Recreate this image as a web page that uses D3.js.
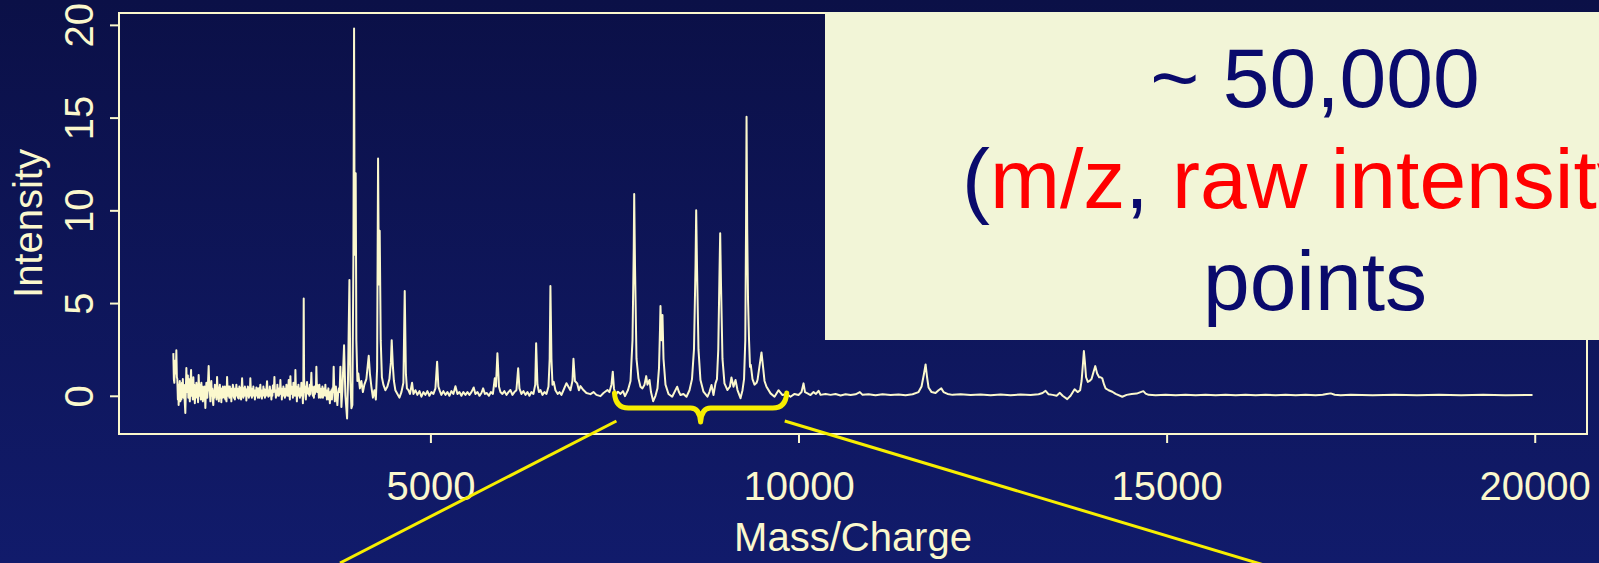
<!DOCTYPE html>
<html>
<head>
<meta charset="utf-8">
<script src="https://cdn.jsdelivr.net/npm/d3@7"></script>
<style>
  html, body { margin: 0; padding: 0; background: #0e1558; overflow: hidden; }
  svg { display: block; }
</style>
</head>
<body>
<div id="chart"></div>
<script>
// spectrum: [m/z, intensity]
const spectrum = [
  // noisy low-mass end
  [1508,2.3],[1515,0.9],[1522,0.7],[1528,1.6],[1535,1.9],[1542,1.2],[1549,2.46],[1556,1.0],
  [1562,0.9],[1570,-0.2],[1576,0.6],[1580,-0.5],[1588,0.4],[1596,0.8],[1603,-0.3],[1610,0.5],
  [1617,-0.2],[1625,0.7],[1631,0.1],[1637,0.9],[1645,-0.1],[1652,0.6],[1658,0.1],[1664,-0.4],
  [1671,-0.93],[1678,0.3],[1685,1.5],[1691,0.4],[1698,0.2],[1705,1.1],[1712,-0.1],[1719,0.9],
  [1725,0.2],[1732,-0.3],[1740,0.6],[1749,1.39],[1757,0.0],[1766,0.3],[1773,-0.2],[1780,1.0],
  [1787,0.1],[1793,0.6],[1800,-0.4],[1808,0.3],[1814,-0.1],[1821,0.7],[1828,0.0],[1836,0.5],
  [1844,-0.35],[1852,1.12],[1860,0.3],[1868,0.0],[1875,0.6],[1882,-0.2],[1889,0.7],[1896,0.1],
  [1903,0.5],[1909,-0.3],[1916,0.4],[1923,-0.2],[1930,0.5],[1937,0.0],[1943,-0.66],[1950,0.2],
  [1957,0.7],[1963,0.4],[1970,-0.1],[1978,0.6],[1988,1.6],[1996,0.5],[2004,0.2],[2011,-0.3],
  [2017,0.5],[2024,0.8],[2031,0.0],[2038,0.4],[2044,-0.3],[2051,-0.5],[2058,0.3],[2065,-0.1],
  [2072,0.6],[2080,0.1],[2088,0.5],[2095,-0.2],[2102,1.02],[2110,0.2],[2119,0.1],[2126,-0.3],
  [2133,0.4],[2140,0.6],[2147,-0.1],[2154,0.3],[2160,-0.35],[2167,0.4],[2174,-0.1],[2181,0.5],
  [2188,0.0],[2195,0.4],[2201,-0.1],[2208,0.5],[2215,-0.2],[2222,0.3],[2230,-0.3],[2238,1.02],
  [2246,0.2],[2255,0.0],[2262,0.5],[2269,-0.1],[2276,0.5],[2283,0.0],[2290,0.3],[2296,-0.3],
  [2303,0.4],[2310,0.0],[2316,0.6],[2323,0.45],[2330,-0.1],[2337,0.3],[2344,-0.2],[2351,0.4],
  [2357,0.0],[2364,0.6],[2371,0.1],[2378,0.4],[2384,-0.1],[2391,0.3],[2398,-0.15],[2405,0.5],
  [2413,0.0],[2421,0.4],[2428,-0.2],[2435,0.3],[2442,0.94],[2450,0.2],[2459,-0.1],[2466,0.4],
  [2473,0.0],[2480,0.5],[2487,0.1],[2494,0.35],[2500,-0.25],[2507,0.3],[2514,0.0],[2520,0.5],
  [2527,0.4],[2534,-0.1],[2541,0.3],[2547,0.0],[2554,0.94],[2562,0.2],[2568,0.4],[2575,-0.1],
  [2582,0.3],[2588,0.0],[2595,0.5],[2602,0.1],[2609,0.3],[2616,-0.2],[2623,0.3],[2629,0.0],
  [2636,0.45],[2643,0.1],[2650,0.4],[2656,-0.1],[2663,0.0],[2670,0.4],[2677,-0.1],[2683,0.3],
  [2690,0.6],[2697,0.0],[2704,0.3],[2711,-0.15],[2718,0.3],[2724,0.0],[2731,0.5],[2738,0.1],
  [2745,0.35],[2752,-0.1],[2759,0.3],[2766,0.0],[2773,0.4],[2781,0.79],[2790,0.1],[2799,-0.05],
  [2806,0.3],[2812,0.0],[2819,0.5],[2826,0.1],[2833,0.3],[2840,-0.2],[2847,0.3],[2853,0.0],
  [2860,0.55],[2867,0.2],[2874,0.4],[2881,1.02],[2888,0.2],[2894,0.3],[2901,-0.1],[2908,0.3],
  [2914,0.0],[2921,0.6],[2928,0.1],[2935,0.3],[2942,0.0],[2949,0.4],[2955,0.1],[2962,0.85],
  [2969,0.2],[2976,0.4],[2982,-0.2],[2989,0.3],[2996,0.0],[3003,0.5],[3010,0.1],[3016,0.4],
  [3023,-0.1],[3030,0.3],[3037,0.0],[3044,0.6],[3051,0.1],[3058,0.35],[3066,0.0],[3075,0.85],
  [3083,0.2],[3091,-0.2],[3098,1.06],[3105,0.3],[3111,0.5],[3118,0.1],[3125,0.4],[3132,-0.1],
  [3139,0.7],[3146,0.2],[3152,0.5],[3159,0.0],[3166,1.39],[3173,0.3],[3179,0.5],[3186,-0.3],
  [3193,0.3],[3200,0.0],[3207,0.6],[3214,0.1],[3220,0.4],[3227,-0.1],[3234,0.4],[3240,0.1],
  [3247,0.7],[3254,0.0],[3261,0.3],[3268,-0.4],[3274,0.8],[3279,5.25],[3284,1.0],[3290,0.2],
  [3295,0.5],[3302,0.0],[3308,-0.2],[3316,0.4],[3324,0.74],[3333,0.2],[3342,0.1],[3349,0.4],
  [3356,0.0],[3363,0.6],[3370,0.1],[3376,0.5],[3383,1.24],[3390,0.3],[3396,0.5],[3403,0.0],
  [3410,0.3],[3417,-0.1],[3424,0.5],[3431,0.1],[3438,0.4],[3444,0.2],[3451,1.56],[3458,0.4],
  [3464,0.6],[3471,0.2],[3478,0.4],[3485,-0.1],[3492,0.6],[3499,0.0],[3505,0.4],[3512,-0.1],
  [3519,0.3],[3526,0.1],[3533,0.5],[3540,-0.1],[3546,0.3],[3553,0.0],[3560,0.4],[3567,0.1],
  [3573,0.6],[3580,0.0],[3587,0.3],[3594,-0.2],[3601,0.3],[3607,0.0],[3614,0.4],[3621,-0.2],
  [3628,0.2],[3634,-0.4],[3641,0.2],[3648,-0.1],[3655,0.3],[3662,-0.2],[3670,0.4],[3678,0.2],
  [3686,1.56],[3694,0.3],[3702,-0.3],[3709,0.2],[3716,0.5],[3726,0.0],[3736,-0.5],[3746,0.1],
  [3757,0.4],[3767,0.2],[3777,1.56],
  // main low-mass peaks
  [3791,-0.6],[3804,0.3],[3827,2.73],[3845,0.0],[3868,-1.22],[3879,0.5],[3900,6.24],
  [3913,0.8],[3927,-0.67],[3940,-0.5],[3954,7.6],[3963,19.8],[3971,7.6],[3985,12.0],[3994,3.0],
  [4008,0.8],[4021,1.2],[4042,0.4],[4062,0.8],[4083,0.2],[4103,0.6],[4130,0.9],[4162,2.16],
  [4178,1.2],[4198,0.5],[4219,-0.1],[4239,0.3],[4259,-0.2],[4276,1.5],[4289,12.8],[4300,6.0],
  [4311,8.9],[4325,3.0],[4341,1.0],[4361,0.6],[4388,0.3],[4416,0.5],[4443,0.9],[4463,1.8],
  [4474,3.0],[4490,1.6],[4504,0.8],[4524,0.3],[4552,0.1],[4579,-0.1],[4606,0.2],[4633,0.7],
  [4651,5.65],[4667,1.2],[4681,0.4],[4701,0.3],[4722,0.1],[4751,0.7],[4769,0.1],[4796,0.3],
  [4823,0.05],[4851,0.25],[4878,-0.05],[4905,0.2],[4932,0.05],[4959,0.25],[4986,0.0],[5014,0.2],
  [5041,0.1],[5068,0.4],[5091,1.83],[5108,0.5],[5129,0.25],[5149,0.05],[5176,0.25],[5204,0.05],
  [5231,0.2],[5258,0.0],[5285,0.25],[5312,0.1],[5340,0.52],[5367,0.1],[5394,0.2],[5421,0.0],
  [5448,0.2],[5476,0.05],[5503,0.2],[5530,0.05],[5557,0.2],[5588,0.45],[5611,0.1],[5639,0.2],
  [5666,0.0],[5693,0.15],[5716,0.4],[5740,0.1],[5767,0.15],[5795,0.0],[5822,0.2],[5849,0.1],
  [5874,0.94],[5890,0.5],[5910,2.29],[5931,0.5],[5951,0.2],[5978,0.1],[6005,0.25],[6033,0.05],
  [6060,0.2],[6087,0.31],[6114,0.05],[6141,0.2],[6168,0.3],[6192,1.48],[6209,0.4],[6236,0.1],
  [6264,0.25],[6291,0.05],[6318,0.2],[6345,0.0],[6372,0.2],[6399,0.1],[6424,0.6],[6436,2.83],
  [6454,0.6],[6474,0.2],[6495,0.31],[6522,0.05],[6549,0.2],[6576,0.1],[6604,0.5],[6620,2.0],
  [6630,5.92],[6644,2.0],[6658,0.6],[6675,0.75],[6698,0.3],[6730,0.1],[6753,0.2],[6780,0.05],
  [6807,0.3],[6848,0.68],[6875,0.49],[6902,0.3],[6929,0.8],[6943,2.0],[6963,0.8],[6993,0.67],
  [7017,0.3],[7038,0.52],[7078,0.31],[7119,0.15],[7174,0.09],[7215,0.2],[7255,0.05],[7310,-0.02],
  [7351,0.15],[7405,0.31],[7432,0.2],[7459,0.6],[7477,1.3],[7493,0.4],[7514,0.04],[7548,0.22],
  // the bracketed cluster
  [7582,0.1],[7616,0.25],[7643,-0.02],[7684,0.31],[7718,0.8],[7745,3.0],[7762,8.0],[7768,10.88],
  [7779,7.0],[7799,2.0],[7826,0.94],[7853,0.49],[7880,0.4],[7908,0.6],[7931,1.06],[7948,0.6],
  [7976,0.85],[7996,0.2],[8026,-0.29],[8057,0.0],[8084,0.4],[8105,1.5],[8118,3.5],[8125,4.84],
  [8139,3.0],[8152,4.35],[8166,2.0],[8193,0.6],[8234,0.1],[8284,-0.05],[8315,0.2],[8352,0.49],
  [8376,0.2],[8397,0.04],[8437,0.1],[8478,-0.05],[8519,0.3],[8553,0.9],[8580,2.5],[8601,7.0],
  [8610,10.0],[8621,7.0],[8641,2.5],[8668,0.85],[8709,0.22],[8763,-0.05],[8790,0.2],[8818,0.58],
  [8845,0.04],[8872,0.67],[8892,0.9],[8910,2.5],[8926,6.5],[8936,8.76],[8947,6.0],[8967,2.0],
  [8994,0.67],[9035,0.31],[9069,0.5],[9089,0.99],[9117,0.49],[9144,0.85],[9171,0.31],[9212,-0.13],
  [9239,0.3],[9260,0.9],[9277,3.0],[9287,9.0],[9294,15.05],[9303,9.0],[9314,5.2],[9328,3.0],
  [9341,1.56],[9352,1.66],[9375,0.9],[9402,0.6],[9430,0.7],[9443,0.85],[9470,1.6],[9497,2.34],
  [9517,1.6],[9538,0.8],[9565,0.49],[9620,0.13],[9674,-0.05],[9728,0.3],[9782,0.04],[9837,0.1],
  // high-mass tail
  [9891,-0.05],[9946,0.1],[10000,0.04],[10041,0.2],[10068,0.67],[10088,0.2],[10122,0.13],[10163,0.04],
  [10204,0.2],[10237,0.1],[10272,0.27],[10299,0.05],[10367,0.1],[10435,0.05],[10503,0.1],[10571,0.02],
  [10639,0.08],[10707,0.04],[10775,0.08],[10833,0.2],[10870,0.05],[10951,0.08],[11046,0.03],[11141,0.08],
  [11250,0.04],[11359,0.07],[11454,0.03],[11549,0.08],[11630,0.2],[11671,0.5],[11705,1.2],[11726,1.69],
  [11746,1.0],[11766,0.45],[11807,0.2],[11861,0.15],[11902,0.3],[11939,0.4],[11970,0.2],[12024,0.1],
  [12092,0.05],[12201,0.08],[12337,0.04],[12473,0.07],[12609,0.03],[12745,0.07],[12880,0.03],[13016,0.07],
  [13152,0.04],[13261,0.08],[13315,0.15],[13356,0.27],[13397,0.08],[13451,0.05],[13506,0.0],[13550,0.16],
  [13587,0.0],[13650,-0.18],[13695,0.0],[13750,0.35],[13791,0.2],[13825,0.3],[13845,0.8],[13865,1.8],
  [13876,2.41],[13890,1.8],[13906,1.0],[13930,0.75],[13953,0.8],[13980,0.9],[14008,1.3],[14031,1.6],
  [14056,1.2],[14083,1.0],[14103,1.0],[14126,0.94],[14151,0.6],[14171,0.4],[14212,0.3],[14262,0.22],
  [14307,0.1],[14398,-0.05],[14457,0.05],[14525,0.1],[14593,0.12],[14647,0.2],[14684,0.25],[14715,0.12],
  [14756,0.05],[14851,0.03],[14987,0.06],[15123,0.03],[15258,0.06],[15394,0.03],[15530,0.06],[15666,0.03],
  [15802,0.05],[15938,0.03],[16073,0.06],[16209,0.03],[16345,0.06],[16481,0.03],[16617,0.05],[16753,0.03],
  [16889,0.06],[17024,0.03],[17120,0.06],[17174,0.1],[17229,0.13],[17283,0.06],[17364,0.03],[17500,0.05],
  [17800,0.03],[18100,0.06],[18400,0.03],[18700,0.05],[19000,0.03],[19300,0.05],[19600,0.03],[19970,0.04]
];

const xTicks = [5000, 10000, 15000, 20000];
const yTicks = [0, 5, 10, 15, 20];
const xLabel = "Mass/Charge";
const yLabel = "Intensity";
const braceRange = [7500, 9840]; // m/z span picked out by the brace

const width = 1599, height = 563;
const cream = "#fbf8cd";
const yellow = "#f7ee00";
const font = "'Liberation Sans', Arial, sans-serif";

const svg = d3.select("#chart").append("svg")
  .attr("width", width)
  .attr("height", height);

// slide background
const grad = svg.append("defs").append("linearGradient")
  .attr("id", "bg").attr("x1", 0).attr("y1", 0).attr("x2", 0).attr("y2", 1);
grad.append("stop").attr("offset", "0%").attr("stop-color", "#0b1047");
grad.append("stop").attr("offset", "100%").attr("stop-color", "#111b6b");
svg.append("rect").attr("width", width).attr("height", height).attr("fill", "url(#bg)");

// plot region (R-style, 4% padding)
const box = { left: 119, right: 1587, top: 13, bottom: 434 };
const x = d3.scaleLinear().domain([770, 20710]).range([box.left, box.right]);
const y = d3.scaleLinear().domain([-2.06, 20.64]).range([box.bottom, box.top]);

svg.append("rect")
  .attr("x", box.left).attr("y", box.top)
  .attr("width", box.right - box.left).attr("height", box.bottom - box.top)
  .attr("fill", "none").attr("stroke", cream).attr("stroke-width", 2);

// x axis
const xAxis = svg.append("g")
  .attr("transform", "translate(0," + box.bottom + ")")
  .call(d3.axisBottom(x).tickValues(xTicks).tickSize(9).tickFormat(d3.format("d")));
xAxis.select(".domain").remove();
xAxis.selectAll("line").attr("stroke", cream).attr("stroke-width", 2);
xAxis.selectAll("text")
  .attr("fill", cream).attr("font-family", font).attr("font-size", 40)
  .attr("dy", null).attr("y", 66);

// y axis
const yAxis = svg.append("g")
  .attr("transform", "translate(" + box.left + ",0)")
  .call(d3.axisLeft(y).tickValues(yTicks).tickSize(9));
yAxis.select(".domain").remove();
yAxis.selectAll("line").attr("stroke", cream).attr("stroke-width", 2);
yAxis.selectAll("text")
  .attr("fill", cream).attr("font-family", font).attr("font-size", 40)
  .attr("x", null).attr("dy", null)
  .attr("text-anchor", "middle")
  .attr("transform", "translate(-26,0) rotate(-90)");

// axis titles
svg.append("text")
  .attr("x", (box.left + box.right) / 2).attr("y", 551)
  .attr("text-anchor", "middle")
  .attr("fill", cream).attr("font-family", font).attr("font-size", 40)
  .text(xLabel);
svg.append("text")
  .attr("transform", "translate(42," + (box.top + box.bottom) / 2 + ") rotate(-90)")
  .attr("text-anchor", "middle")
  .attr("fill", cream).attr("font-family", font).attr("font-size", 40)
  .text(yLabel);

// the spectrum
const line = d3.line().x(d => x(d[0])).y(d => y(d[1]));
svg.append("path")
  .datum(spectrum)
  .attr("d", line)
  .attr("fill", "none")
  .attr("stroke", cream)
  .attr("stroke-width", 2)
  .attr("stroke-linejoin", "round");

// call-out box (runs off the right edge of the slide, as in the original)
svg.append("rect")
  .attr("x", 825).attr("y", 12)
  .attr("width", width - 825).attr("height", 328)
  .attr("fill", "#f2f5d7");

const navy = "#0a0a6c", red = "#ff0000";
svg.append("text")
  .attr("x", 1315).attr("y", 107).attr("text-anchor", "middle")
  .attr("fill", navy).attr("font-family", font).attr("font-size", 84)
  .text("~ 50,000");
const mid = svg.append("text")
  .attr("x", 962).attr("y", 208)
  .attr("font-family", font).attr("font-size", 84);
[["(", navy], ["m/z", red], [",", navy], [" raw intensity", red], [")", navy]].forEach(p => {
  mid.append("tspan").attr("fill", p[1]).text(p[0]);
});
svg.append("text")
  .attr("x", 1315).attr("y", 310).attr("text-anchor", "middle")
  .attr("fill", navy).attr("font-family", font).attr("font-size", 84)
  .text("points");

// brace under the selected region
const bx0 = x(braceRange[0]), bx1 = x(braceRange[1]), bm = (bx0 + bx1) / 2;
const bTop = 393, bFlat = 408, bTip = 422;
svg.append("path")
  .attr("d", `M${bx0},${bTop} Q${bx0 + 1},${bFlat} ${bx0 + 14},${bFlat} L${bm - 10},${bFlat}` +
             ` Q${bm - 1},${bFlat} ${bm},${bTip} Q${bm + 1},${bFlat} ${bm + 10},${bFlat}` +
             ` L${bx1 - 14},${bFlat} Q${bx1 - 1},${bFlat} ${bx1},${bTop}`)
  .attr("fill", "none").attr("stroke", yellow).attr("stroke-width", 5)
  .attr("stroke-linecap", "round").attr("stroke-linejoin", "round");

// connector lines to the zoomed view below
svg.append("line")
  .attr("x1", bx0 + 2).attr("y1", 421).attr("x2", 340).attr("y2", 563)
  .attr("stroke", yellow).attr("stroke-width", 3);
svg.append("line")
  .attr("x1", bx1 - 2).attr("y1", 421).attr("x2", 1264).attr("y2", 565)
  .attr("stroke", yellow).attr("stroke-width", 3);
</script>
</body>
</html>
